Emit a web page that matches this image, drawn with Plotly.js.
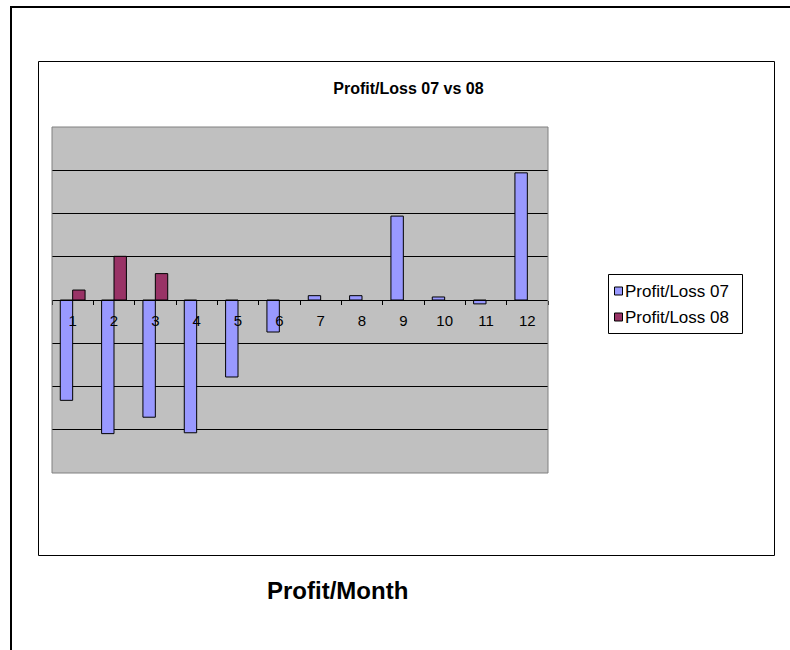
<!DOCTYPE html>
<html>
<head>
<meta charset="utf-8">
<script src="https://cdn.plot.ly/plotly-3.0.1.min.js"></script>
<style>
  html, body { margin: 0; padding: 0; background: #fff; }
  #chart { width: 790px; height: 650px; }
</style>
</head>
<body>
<div id="chart"></div>
<script>
const months = ['1','2','3','4','5','6','7','8','9','10','11','12'];
const profitLoss07 = [-2320, -3090, -2710, -3070, -1780, -740, 100, 100, 1940, 70, -90, 2940];
const profitLoss08 = [230, 1010, 610, null, null, null, null, null, null, null, null, null];
const seriesNames = ['Profit/Loss 07', 'Profit/Loss 08'];
const seriesColors = ['#9999FF', '#993366'];
const chartTitle = 'Profit/Loss 07 vs 08';
const footerText = 'Profit/Month';

const FONT = 'Arial, "Liberation Sans", sans-serif';

// pixel -> paper helpers (plot area: x 52..548, y 127..473)
const L = 52, R = 548, T = 127, B = 473;
const px = v => (v - L) / (R - L);
const py = v => (B - v) / (B - T);

const traces = [
  {
    type: 'bar', name: seriesNames[0], x: months, y: profitLoss07,
    marker: { color: seriesColors[0], line: { color: '#000000', width: 1 } }
  },
  {
    type: 'bar', name: seriesNames[1], x: months, y: profitLoss08,
    marker: { color: seriesColors[1], line: { color: '#000000', width: 1 } }
  }
];

// custom legend (box, swatches, labels) matching the original's compact layout
const legendRows = [291, 317];
const legendShapes = [
  { type: 'rect', xref: 'paper', yref: 'paper',
    x0: px(608.5), x1: px(742.5), y0: py(333.5), y1: py(274.5),
    fillcolor: '#ffffff', line: { color: '#000000', width: 1 }, layer: 'above' }
];
const legendAnnots = [];
seriesNames.forEach((nm, i) => {
  const cy = legendRows[i];
  legendShapes.push({ type: 'rect', xref: 'paper', yref: 'paper',
    x0: px(614.5), x1: px(622.5), y0: py(cy + 4), y1: py(cy - 4),
    fillcolor: seriesColors[i], line: { color: '#000000', width: 1 }, layer: 'above' });
  legendAnnots.push({ text: nm, xref: 'paper', yref: 'paper',
    x: px(623), y: py(cy), xanchor: 'left', yanchor: 'middle', showarrow: false,
    font: { family: FONT, size: 17, color: '#000' } });
});

const layout = {
  width: 790, height: 650,
  margin: { l: L, r: 790 - R, t: T, b: 650 - B, pad: 0 },
  paper_bgcolor: '#ffffff',
  plot_bgcolor: '#C0C0C0',
  barmode: 'group',
  bargap: 0.4,
  bargroupgap: 0,
  font: { family: FONT, color: '#000000', size: 13 },
  showlegend: false,
  title: {
    text: '<b>' + chartTitle + '</b>',
    font: { family: FONT, size: 16, color: '#000' },
    xref: 'paper', x: px(408.5), xanchor: 'center',
    yref: 'container', y: 1 - 88 / 650, yanchor: 'middle'
  },
  xaxis: {
    type: 'category',
    anchor: 'free', position: 0.5,
    showline: true, linecolor: '#000000', linewidth: 1,
    ticks: 'outside', ticklen: 4, tickcolor: '#000000', tickwidth: 1,
    tickson: 'boundaries',
    showgrid: false, zeroline: false,
    tickfont: { family: FONT, size: 15, color: '#000' },
    ticklabelstandoff: 7,
    fixedrange: true
  },
  yaxis: {
    range: [-4000, 4000], dtick: 1000, tick0: 0,
    showticklabels: false, ticks: '',
    showgrid: true, gridcolor: '#000000', gridwidth: 1,
    zeroline: false, showline: false,
    fixedrange: true
  },
  shapes: [
    // plot-area border
    { type: 'rect', xref: 'paper', yref: 'paper', x0: 0, x1: 1, y0: 0, y1: 1,
      line: { color: '#808080', width: 1 }, layer: 'above' },
    // inner chart frame
    { type: 'rect', xref: 'paper', yref: 'paper',
      x0: px(38.5), x1: px(774.5), y0: py(555.5), y1: py(61.5),
      line: { color: '#000000', width: 1 }, layer: 'below' },
    // outer frame: top and left lines
    { type: 'line', xref: 'paper', yref: 'paper',
      x0: px(10), x1: px(800), y0: py(7), y1: py(7),
      line: { color: '#000000', width: 2 } },
    { type: 'line', xref: 'paper', yref: 'paper',
      x0: px(11), x1: px(11), y0: py(6), y1: py(660),
      line: { color: '#000000', width: 2 } }
  ].concat(legendShapes),
  annotations: [
    { text: '<b>' + footerText + '</b>', xref: 'paper', yref: 'paper',
      x: px(337.5), y: py(590), xanchor: 'center', yanchor: 'middle',
      showarrow: false, font: { family: FONT, size: 24, color: '#000' } }
  ].concat(legendAnnots)
};

Plotly.newPlot('chart', traces, layout, { displayModeBar: false, staticPlot: true });
</script>
</body>
</html>
